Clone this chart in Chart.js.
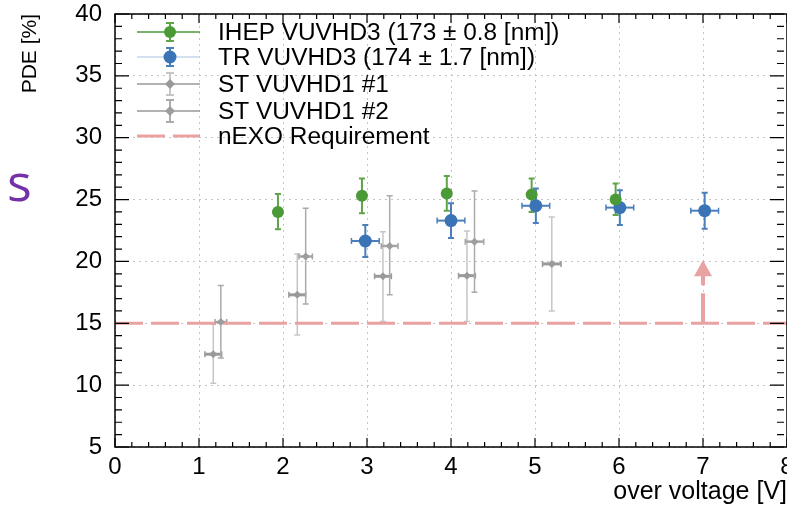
<!DOCTYPE html>
<html>
<head>
<meta charset="utf-8">
<script src="https://cdn.jsdelivr.net/npm/chart.js@4.4.1/dist/chart.umd.min.js"></script>
<style>
  html, body { margin: 0; padding: 0; background: #fff; }
  #wrap { position: relative; width: 787px; height: 509px; overflow: hidden; }
  #side { position: absolute; left: 7px; top: 145px; font: 52px 'Open Sans', sans-serif; color: #7432a6; }
</style>
</head>
<body>
<div id="wrap">
  <canvas id="pde" width="787" height="509"></canvas>
  <span id="side">s</span>
</div>
<script>
// legend texts
const labels = ['IHEP VUVHD3 (173 \u00b1 0.8 [nm])', 'TR VUVHD3 (174 \u00b1 1.7 [nm])', 'ST VUVHD1 #1', 'ST VUVHD1 #2', 'nEXO Requirement']

// IHEP
const ihepX = [1.94, 2.94, 3.95, 4.96, 5.96]
const ihepY = [24.0, 25.3, 25.5, 25.4, 25.0]
const ihepUp = [1.45, 1.4, 1.4, 1.3, 1.3]
const ihepDn = [1.4, 1.4, 1.4, 1.4, 1.25]

// TR
const trX = [2.98, 4.0, 5.01, 6.01, 7.02]
const trY = [21.65, 23.3, 24.5, 24.35, 24.1]
const trErrY = [1.3, 1.4, 1.4, 1.4, 1.45]
const trErrX = [0.165, 0.165, 0.165, 0.165, 0.165]

// ST #1
const st1X = [1.17, 2.17, 3.19, 4.19, 5.2]
const st1Y = [12.5, 17.3, 18.8, 18.85, 19.8]
const st1Up = [2.45, 3.3, 3.6, 3.6, 3.8]
const st1Dn = [2.35, 3.25, 3.65, 3.7, 3.8]
const st1ErrX = [0.1, 0.1, 0.1, 0.1, 0.11]

// ST #2
const st2X = [1.26, 2.27, 3.27, 4.28]
const st2Y = [15.1, 20.4, 21.25, 21.6]
const st2Up = [2.95, 3.9, 4.05, 4.1]
const st2Dn = [2.9, 3.85, 3.95, 4.1]
const st2ErrX = [0.07, 0.08, 0.1, 0.11]

// requirement line + arrow
const reqX = [0, 8]
const reqLevel = 15
const arrowX = 7
const arrowTip = 20.1

// axes
const xMin = 0, xMax = 8, xStep = 1, xMinor = 0.2
const yMin = 5, yMax = 40, yStep = 5, yMinor = 1

const FONT = "'Liberation Sans', Arial, sans-serif"

const pts = (xs, ys) => xs.map((x, i) => ({x: x, y: ys[i]}))

const errorBars = {
  id: 'errorBars',
  beforeDatasetsDraw(chart) {
    const {ctx, chartArea, scales: {x, y}} = chart
    ctx.save()
    ctx.beginPath()
    ctx.rect(chartArea.left, chartArea.top, chartArea.width, chartArea.height)
    ctx.clip()
    chart.data.datasets.forEach(ds => {
      if (!ds.errUp) return
      ds.data.forEach((p, i) => {
        const px = x.getPixelForValue(p.x)
        const py = y.getPixelForValue(p.y)
        const top = y.getPixelForValue(p.y + ds.errUp[i])
        const bot = y.getPixelForValue(p.y - ds.errDn[i])
        ctx.strokeStyle = ds.errColor
        ctx.lineWidth = ds.errWidth
        ctx.beginPath()
        ctx.moveTo(px, top); ctx.lineTo(px, bot)
        ctx.moveTo(px - 3, top); ctx.lineTo(px + 3, top)
        ctx.moveTo(px - 3, bot); ctx.lineTo(px + 3, bot)
        ctx.stroke()
        if (ds.errX) {
          const l = x.getPixelForValue(p.x - ds.errX[i])
          const r = x.getPixelForValue(p.x + ds.errX[i])
          ctx.strokeStyle = ds.xErrColor
          ctx.lineWidth = ds.xErrWidth
          ctx.beginPath()
          ctx.moveTo(l, py); ctx.lineTo(r, py)
          ctx.stroke()
          ctx.lineWidth = 1.5
          ctx.beginPath()
          ctx.moveTo(l, py - 3); ctx.lineTo(l, py + 3)
          ctx.moveTo(r, py - 3); ctx.lineTo(r, py + 3)
          ctx.stroke()
        }
      })
    })
    ctx.restore()
  }
}

const frameAndExtras = {
  id: 'frameAndExtras',
  afterDatasetsDraw(chart) {
    const {ctx, scales: {x, y}} = chart
    // arrow
    const ax = x.getPixelForValue(arrowX)
    const ab = y.getPixelForValue(reqLevel)
    const at = y.getPixelForValue(arrowTip)
    ctx.save()
    ctx.strokeStyle = '#e9a2a2'
    ctx.fillStyle = '#e9a2a2'
    ctx.lineWidth = 4
    ctx.setLineDash([30, 8])
    ctx.beginPath()
    ctx.moveTo(ax, ab); ctx.lineTo(ax, at + 14)
    ctx.stroke()
    ctx.setLineDash([])
    ctx.beginPath()
    ctx.moveTo(ax, at); ctx.lineTo(ax - 9, at + 16); ctx.lineTo(ax + 9, at + 16); ctx.closePath()
    ctx.fill()
    ctx.restore()
  },
  afterDraw(chart) {
    const {ctx, chartArea: a, scales: {x, y}} = chart
    ctx.save()
    // frame
    ctx.strokeStyle = '#000'
    ctx.lineWidth = 1.5
    ctx.strokeRect(a.left, a.top, a.width, a.height)
    // ticks, inside
    ctx.lineWidth = 1.2
    ctx.beginPath()
    for (let v = xMin; v <= xMax + 1e-6; v += xMinor) {
      const major = Math.abs(v - Math.round(v / xStep) * xStep) < 1e-6
      const len = major ? 9 : 5
      const px = x.getPixelForValue(v)
      ctx.moveTo(px, a.bottom); ctx.lineTo(px, a.bottom - len)
      ctx.moveTo(px, a.top); ctx.lineTo(px, a.top + len)
    }
    for (let v = yMin; v <= yMax + 1e-6; v += yMinor) {
      const major = Math.abs(v - Math.round(v / yStep) * yStep) < 1e-6
      const len = major ? 14 : 7
      const py = y.getPixelForValue(v)
      ctx.moveTo(a.left, py); ctx.lineTo(a.left + len, py)
      ctx.moveTo(a.right - 3, py); ctx.lineTo(a.right - 3 - len, py)
    }
    ctx.stroke()

    // legend
    const rowY = [32, 57, 84, 111, 136]
    const lx0 = 137, lx1 = 200, mx = 170, tx = 218
    chart.data.datasets.forEach((ds, i) => {
      const ry = rowY[i]
      ctx.setLineDash(ds.borderDash || [])
      ctx.strokeStyle = ds.legendLine
      ctx.lineWidth = ds.borderDash ? 3 : 1.5
      ctx.beginPath()
      ctx.moveTo(lx0, ry); ctx.lineTo(lx1, ry)
      ctx.stroke()
      ctx.setLineDash([])
      if (ds.errUp) {
        const h = i < 2 ? 9 : 11
        ctx.strokeStyle = ds.errColor
        ctx.lineWidth = 2
        ctx.beginPath()
        ctx.moveTo(mx, ry - h); ctx.lineTo(mx, ry + h)
        ctx.moveTo(mx - 4, ry - h); ctx.lineTo(mx + 4, ry - h)
        ctx.moveTo(mx - 4, ry + h); ctx.lineTo(mx + 4, ry + h)
        ctx.stroke()
        ctx.fillStyle = ds.pointBackgroundColor
        ctx.beginPath()
        if (ds.pointStyle === 'circle') {
          ctx.arc(mx, ry, ds.pointRadius, 0, Math.PI * 2)
        } else {
          const r = ds.pointRadius + 1
          ctx.moveTo(mx, ry - r); ctx.lineTo(mx + r, ry); ctx.lineTo(mx, ry + r); ctx.lineTo(mx - r, ry); ctx.closePath()
        }
        ctx.fill()
      }
      ctx.fillStyle = '#000'
      ctx.font = '24.4px ' + FONT
      ctx.textBaseline = 'middle'
      ctx.textAlign = 'left'
      ctx.fillText(ds.label, tx, ry + 1)
    })
    ctx.restore()
  }
}

const data = {
  datasets: [
    {
      label: labels[0], data: pts(ihepX, ihepY),
      errUp: ihepUp, errDn: ihepDn, errColor: '#5fa44a', errWidth: 2,
      pointStyle: 'circle', pointRadius: 6, pointBackgroundColor: '#4b9a38', pointBorderWidth: 0,
      legendLine: '#4b9a38', showLine: false
    },
    {
      label: labels[1], data: pts(trX, trY),
      errUp: trErrY, errDn: trErrY, errColor: '#4a7fbb', errWidth: 2,
      errX: trErrX, xErrColor: '#4a7fbb', xErrWidth: 2,
      pointStyle: 'circle', pointRadius: 6.5, pointBackgroundColor: '#3a74b6', pointBorderWidth: 0,
      legendLine: '#c3d6ea', showLine: false
    },
    {
      label: labels[2], data: pts(st1X, st1Y),
      errUp: st1Up, errDn: st1Dn, errColor: '#c6c6c6', errWidth: 1.5,
      errX: st1ErrX, xErrColor: '#9a9a9a', xErrWidth: 3,
      pointStyle: 'rectRot', pointRadius: 4, pointBackgroundColor: '#999', pointBorderWidth: 0,
      legendLine: '#999', showLine: false
    },
    {
      label: labels[3], data: pts(st2X, st2Y),
      errUp: st2Up, errDn: st2Dn, errColor: '#ababab', errWidth: 1.5,
      errX: st2ErrX, xErrColor: '#a5a5a5', xErrWidth: 2.5,
      pointStyle: 'rectRot', pointRadius: 4, pointBackgroundColor: '#9d9d9d', pointBorderWidth: 0,
      legendLine: '#999', showLine: false
    },
    {
      type: 'line', label: labels[4], data: reqX.map(v => ({x: v, y: reqLevel})),
      borderColor: '#e9a2a2', borderWidth: 3, borderDash: [28, 8], pointRadius: 0,
      legendLine: '#e9a2a2', fill: false
    }
  ]
}

const config = {
  type: 'scatter',
  data: data,
  options: {
    responsive: false,
    animation: false,
    events: [],
    layout: { autoPadding: false, padding: { top: 14, right: 0, left: 0, bottom: 0 } },
    plugins: { legend: { display: false }, tooltip: { enabled: false } },
    scales: {
      x: {
        type: 'linear', min: xMin, max: xMax,
        afterFit: s => { s.height = 62; s.paddingLeft = 0; s.paddingRight = 0 },
        ticks: { stepSize: xStep, color: '#000', font: { family: FONT, size: 24 }, padding: 6, maxRotation: 0, autoSkip: false },
        grid: { color: '#c4c4c4', lineWidth: 1, drawTicks: false },
        border: { display: false, dash: [2, 4] },
        title: { display: true, text: 'over voltage [V]', align: 'end', color: '#000', font: { family: FONT, size: 25 }, padding: { top: 0, bottom: 2 } }
      },
      y: {
        type: 'linear', min: yMin, max: yMax,
        afterFit: s => { s.width = 115; s.paddingTop = 0; s.paddingBottom = 0 },
        ticks: { stepSize: yStep, color: '#000', font: { family: FONT, size: 24 }, padding: 13 },
        grid: { color: '#c4c4c4', lineWidth: 1, drawTicks: false },
        border: { display: false, dash: [2, 4] },
        title: { display: true, text: 'PDE [%]', align: 'end', color: '#000', font: { family: FONT, size: 21 }, padding: { top: 18, bottom: 0 } }
      }
    }
  },
  plugins: [errorBars, frameAndExtras]
}

const chart = new Chart(document.getElementById('pde'), config)
</script>
</body>
</html>
